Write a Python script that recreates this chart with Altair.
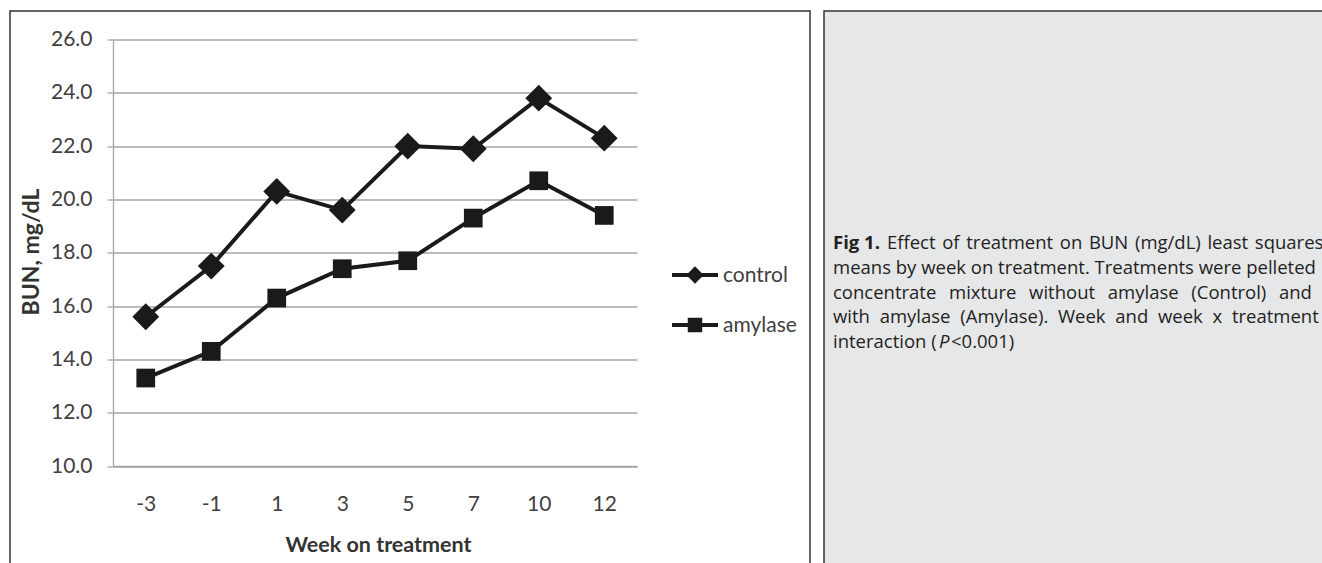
import altair as alt
import pandas as pd

# ---------------- data ----------------
weeks = ["-3", "-1", "1", "3", "5", "7", "10", "12"]
control = [15.6, 17.5, 20.3, 19.6, 22.0, 21.9, 23.8, 22.3]
amylase = [13.3, 14.3, 16.3, 17.4, 17.7, 19.3, 20.7, 19.4]
series_names = ["control", "amylase"]
series_shapes = ["diamond", "square"]
y_ticks = [10, 12, 14, 16, 18, 20, 22, 24, 26]

SP0 = "\u200a "
SP2 = "\u00a0\u2009 "
SP1 = "\u2009\u200a "
caption_bold = "Fig 1."
caption_lines = [
    SP0.join(["Effect", "of", "treatment", "on", "BUN", "(mg/dL)", "least", "squares"]),
    "means by week on treatment. Treatments were pelleted",
    SP2.join(["concentrate", "mixture", "without", "amylase", "(Control)", "and"]),
    SP1.join(["with", "amylase", "(Amylase).", "Week", "and", "week", "x", "treatment"]),
]
caption_last = ["interaction (", "P", "<0.001)"]

df = pd.DataFrame({
    "week": weeks * 2,
    "bun": control + amylase,
    "series": [series_names[0]] * len(weeks) + [series_names[1]] * len(weeks),
})

# ---------------- layout ----------------
W, H = 524, 426.5
OX, OY = 113, 39.5           # plot-area origin on the page
INK = "#1a1a1a"
GRID = "#a3a5a8"
LABEL = "#404040"
CHART_FONT = "Lato"
CAP_FONT = "Open Sans"


def single():
    return alt.Chart(pd.DataFrame({"k": [0]}))


def px(v):
    return alt.value(v - OX)


def py(v):
    return alt.value(v - OY)


# panel frames
left_frame = single().mark_rect(fillOpacity=0, stroke="#333333", strokeWidth=1.5).encode(
    x=px(10), x2=px(810), y=py(11), y2=py(600)
)
right_frame = single().mark_rect(fill="#e6e7e9", stroke="#333333", strokeWidth=1.5).encode(
    x=px(824), x2=px(1340), y=py(11), y2=py(600)
)

x_enc = alt.X(
    "week:O",
    sort=weeks,
    scale=alt.Scale(type="point", padding=0.5),
    axis=alt.Axis(
        labelAngle=0, ticks=False, tickSize=0, grid=False,
        domain=True, domainColor=GRID, domainWidth=1.3,
        labelFont=CHART_FONT, labelFontSize=21, labelColor=LABEL, labelPadding=27,
        title="Week on treatment", titleFont=CHART_FONT, titleFontSize=21.5,
        titleFontWeight="bold", titleColor="#333333",
        titleX=265, titleY=85, titleBaseline="alphabetic", titleAlign="center",
    ),
)
y_enc = alt.Y(
    "bun:Q",
    scale=alt.Scale(domain=[10, 26], nice=False, zero=False),
    axis=alt.Axis(
        values=y_ticks, format=".1f",
        grid=True, gridColor=GRID, gridWidth=1.3,
        domain=True, domainColor=GRID, domainWidth=1.3,
        ticks=True, tickColor=GRID, tickSize=6, tickWidth=1.3,
        labelFont=CHART_FONT, labelFontSize=21, labelColor=LABEL, labelPadding=15,
        title="BUN, mg/dL", titleFont=CHART_FONT, titleFontSize=23,
        titleFontWeight="bold", titleColor="#333333",
        titleAngle=270, titleX=-75, titleY=212, titleBaseline="alphabetic", titleAlign="center",
    ),
)

lines = alt.Chart(df).mark_line(color=INK, strokeWidth=4, strokeJoin="miter").encode(
    x=x_enc, y=y_enc, detail="series:N"
)
points = alt.Chart(df).mark_point(filled=True, color=INK, opacity=1).encode(
    x=alt.X("week:O", sort=weeks),
    y="bun:Q",
    shape=alt.Shape("series:N", scale=alt.Scale(domain=series_names, range=series_shapes), legend=None),
    size=alt.Size("series:N", scale=alt.Scale(domain=series_names, range=[720, 350]), legend=None),
)

# legend
legend_layers = []
legend_y = [275, 325]
legend_sizes = [300, 210]
for name, shp, ly, sz in zip(series_names, series_shapes, legend_y, legend_sizes):
    legend_layers.append(
        single().mark_rule(color=INK, strokeWidth=4).encode(x=px(672), x2=px(718), y=py(ly))
    )
    legend_layers.append(
        single().mark_point(shape=shp, filled=True, color=INK, opacity=1, size=sz).encode(x=px(695), y=py(ly))
    )
    legend_layers.append(
        single().mark_text(align="left", baseline="middle", font=CHART_FONT, fontSize=21, color=LABEL, text=name).encode(
            x=px(723), y=py(ly + 1)
        )
    )

# caption
cap_layers = []
CAP_X = 833
CAP_Y0 = 249
CAP_DY = 24.8
CAP_SIZE = 18.5
CAP_COLOR = "#231f20"
cap_layers.append(
    single().mark_text(align="left", baseline="alphabetic", font=CAP_FONT, fontSize=CAP_SIZE,
                       fontWeight="bold", color=CAP_COLOR, text=caption_bold).encode(x=px(CAP_X), y=py(CAP_Y0))
)
for i, line in enumerate(caption_lines):
    xx = 887 if i == 0 else CAP_X
    cap_layers.append(
        single().mark_text(align="left", baseline="alphabetic", font=CAP_FONT, fontSize=CAP_SIZE,
                           color=CAP_COLOR, text=line).encode(x=px(xx), y=py(CAP_Y0 + i * CAP_DY))
    )
last_y = CAP_Y0 + 4 * CAP_DY
cap_layers.append(
    single().mark_text(align="left", baseline="alphabetic", font=CAP_FONT, fontSize=CAP_SIZE,
                       color=CAP_COLOR, text=caption_last[0]).encode(x=px(CAP_X), y=py(last_y))
)
cap_layers.append(
    single().mark_text(align="left", baseline="alphabetic", font=CAP_FONT, fontSize=CAP_SIZE,
                       fontStyle="italic", color=CAP_COLOR, text=caption_last[1]).encode(x=px(939), y=py(last_y))
)
cap_layers.append(
    single().mark_text(align="left", baseline="alphabetic", font=CAP_FONT, fontSize=CAP_SIZE,
                       color=CAP_COLOR, text=caption_last[2]).encode(x=px(951), y=py(last_y))
)

chart = alt.layer(
    left_frame, right_frame, lines, points, *legend_layers, *cap_layers
).properties(
    width=W, height=H,
    padding={"left": OX, "top": OY, "right": 1322 - OX - W, "bottom": 563 - OY - H},
    autosize=alt.AutoSizeParams(type="none"),
    background="white",
).configure_view(stroke=None)

chart.save("out.html", embed_options={"renderer": "svg", "actions": False})
